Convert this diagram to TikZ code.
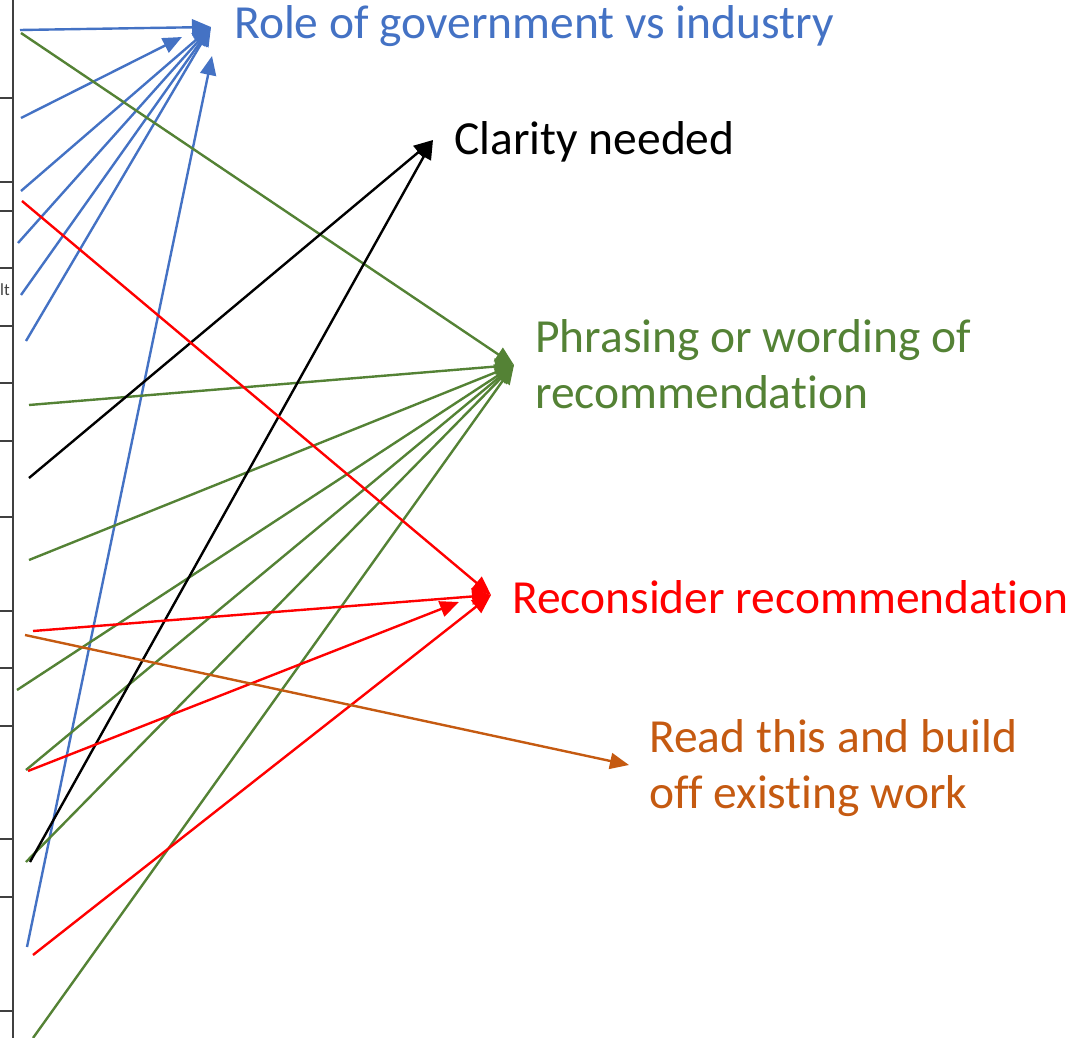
\documentclass[tikz,border=0pt]{standalone}
\usepackage{fontspec}
\setmainfont{Carlito}[Ligatures=NoCommon]
\usepackage{tikz}
\usetikzlibrary{arrows.meta}
\usepackage{xcolor}
\definecolor{govblue}{HTML}{4472C4}
\definecolor{wordgreen}{HTML}{548235}
\definecolor{rethinkred}{HTML}{FF0000}
\definecolor{buildorange}{HTML}{C55A11}
\definecolor{tablegray}{HTML}{404040}

\begin{document}
\begin{tikzpicture}[x=1pt, y=-1pt, >={Triangle[length=19pt,width=16pt]}, line width=2.4pt,
  every node/.style={draw=none, inner sep=0pt, anchor=base west, align=left,
    font=\fontsize{47.5}{56}\selectfont},
  label/.style={text=#1}, link/.style={draw=#1, ->}]
  \useasboundingbox (0,0) rectangle (1088,1038);

  % Table edge
  \draw[tablegray, line width=1.5pt] (13,0) -- (13,1038);
  \foreach \y in {98,182,211,268,326,383,441,517,611,668,726,839,897,1011}
    \draw[tablegray, line width=1.5pt] (0,\y) -- (13,\y);
  \node[text=tablegray, font=\fontsize{17}{18}\selectfont, anchor=base east] (cut) at (11,295) {lt};

  % Nodes (base of last line)
  \node[label=govblue] (role) at (233,39) {Role of government vs industry};
  \node[label=black] (clarity) at (453,155) {Clarity needed};
  \node[label=wordgreen] (phrasing) at (534,408) {Phrasing or wording of\\recommendation};
  \node[label=rethinkred] (reconsider) at (511,613) {Reconsider recommendation};
  \node[label=buildorange] (readthis) at (648,808) {Read this and build\\off existing work};

  % Arrow tips
  \coordinate (roleTip) at (211,27);
  \coordinate (roleTipB) at (182,37);
  \coordinate (roleTipC) at (212,56);
  \coordinate (clarityTip) at (433,140);
  \coordinate (phrasingTip) at (514,365);
  \coordinate (reconsiderTip) at (491,595);
  \coordinate (reconsiderTipB) at (459,602);
  \coordinate (readthisTip) at (629,765);

  % Arrows
  \draw[link=govblue] (21,118) -- (roleTipB);
  \foreach \x/\y in {20/30, 21/191, 18/243, 21/295, 26/341}
    \draw[link=govblue] (\x,\y) -- (roleTip);
  \draw[link=govblue] (27,947) -- (roleTipC);

  \foreach \x/\y in {21/33, 29/405, 29/560, 17/690, 26/770, 26/862, 33/1038}
    \draw[link=wordgreen] (\x,\y) -- (phrasingTip);

  \foreach \x/\y in {29/478, 30/862}
    \draw[link=black] (\x,\y) -- (clarityTip);

  \foreach \x/\y in {22/201, 33/631, 33/955}
    \draw[link=rethinkred] (\x,\y) -- (reconsiderTip);
  \draw[link=rethinkred] (28,771) -- (reconsiderTipB);

  \draw[link=buildorange] (25,635) -- (readthisTip);
\end{tikzpicture}
\end{document}
